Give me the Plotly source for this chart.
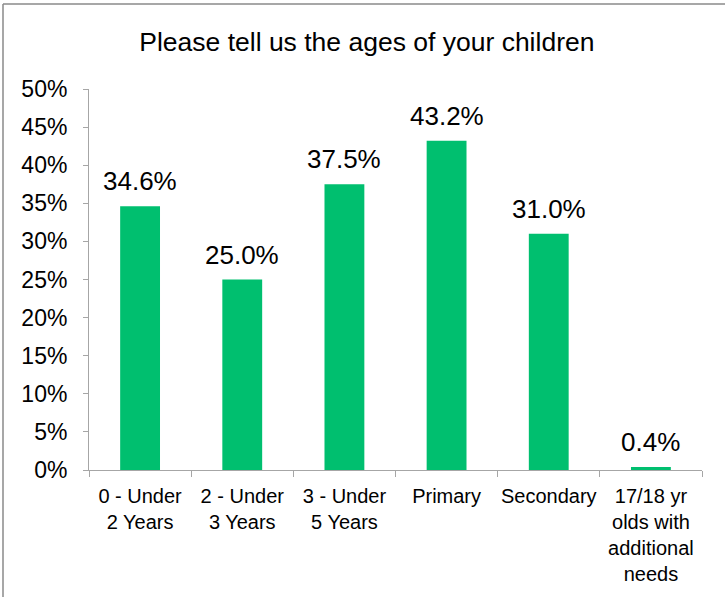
import plotly.graph_objects as go

categories = ["0 - Under<br>2 Years", "2 - Under<br>3 Years", "3 - Under<br>5 Years",
              "Primary", "Secondary", "17/18 yr<br>olds with<br>additional<br>needs"]
values = [34.6, 25.0, 37.5, 43.2, 31.0, 0.4]
labels = ["34.6%", "25.0%", "37.5%", "43.2%", "31.0%", "0.4%"]
y_ticks = [0, 5, 10, 15, 20, 25, 30, 35, 40, 45, 50]
y_tick_text = [f"{v}%" for v in y_ticks]

FONT = "Liberation Sans, Arial, sans-serif"
GREEN = "#00BF6F"

fig = go.Figure()
fig.add_trace(go.Bar(x=categories, y=values, marker=dict(color=GREEN, line=dict(width=0)),
                     width=0.39, hoverinfo="skip"))

for c, v, t in zip(categories, values, labels):
    fig.add_annotation(x=c, y=v, text=t, showarrow=False, yanchor="middle", yshift=25,
                       font=dict(family=FONT, size=26, color="#000000"))

W, H = 725, 597
ml, mr, mt, mb = 89, 23, 89, 127
pw, ph = W - ml - mr, H - mt - mb

def px_x(x):
    return (x - ml) / pw

def px_y(y):
    return 1 - (y - mt) / ph

border = dict(color="#8a8a8a", width=1.5)
fig.add_shape(type="line", xref="paper", yref="paper", x0=px_x(3), x1=px_x(3), y0=px_y(4), y1=px_y(600), line=border)
fig.add_shape(type="line", xref="paper", yref="paper", x0=px_x(3), x1=px_x(726), y0=px_y(4), y1=px_y(4), line=border)

fig.update_layout(
    width=W, height=H,
    margin=dict(l=ml, r=mr, t=mt, b=mb),
    paper_bgcolor="white", plot_bgcolor="white",
    showlegend=False,
    bargap=0.61,
    title=dict(text="Please tell us the ages of your children", x=0.506, xanchor="center",
               y=1 - 42 / H, yanchor="middle",
               font=dict(family=FONT, size=26.5, color="#000000")),
    font=dict(family=FONT, color="#000000"),
)
fig.update_xaxes(type="category", showline=True, linecolor="#a6a6a6", linewidth=1,
                 ticks="outside", tickson="boundaries", ticklen=6, tickcolor="#a6a6a6",
                 tickangle=0, automargin=False, ticklabelstandoff=8,
                 tickfont=dict(family=FONT, size=20, color="#000000"), showgrid=False, zeroline=False)
fig.update_yaxes(range=[0, 50], tickvals=y_ticks, ticktext=y_tick_text, showline=True,
                 linecolor="#a6a6a6", linewidth=1, ticks="outside", ticklen=5, tickcolor="#a6a6a6",
                 automargin=False,
                 tickfont=dict(family=FONT, size=23, color="#000000"), ticklabelstandoff=11,
                 showgrid=False, zeroline=False)

fig.write_html("out.html", config={"displayModeBar": False, "staticPlot": True},
               post_script="document.body.style.margin='0px';document.body.style.overflow='hidden';")
